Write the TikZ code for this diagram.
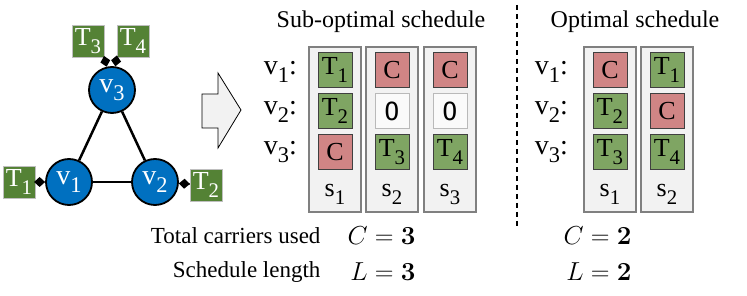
\RequirePackage{fix-cm}
\documentclass[tikz,border=0pt]{standalone}
\usepackage{amsmath}
\usepackage{graphicx}
\usepackage[no-math]{fontspec}
\setmainfont{Liberation Serif}
\newfontfamily\idlefont{DejaVu Sans Mono}
\usepackage{xcolor}
\usepackage{tikz}
\usetikzlibrary{positioning, arrows.meta, calc}
\definecolor{taskgreen}{HTML}{548235}
\definecolor{cellgreen}{HTML}{7FA563}
\definecolor{cellred}{HTML}{D08585}
\definecolor{colgray}{HTML}{F2F2F2}
\definecolor{vblue}{HTML}{0070C0}
\newcommand{\lo}[1]{\raisebox{-0.3em}{\scalebox{0.8}{#1}}}

\begin{document}
\begin{tikzpicture}[
  x=1pt, y=-1pt,
  node distance=5pt and 5pt,
  font=\fontsize{26}{30}\selectfont,
  vertex/.style={circle, draw, line width=1.8pt, fill=vblue, text=white, minimum size=46pt, inner sep=0pt, font=\fontsize{28}{30}\selectfont},
  tbox/.style={draw=gray!50, line width=0.8pt, fill=taskgreen, text=white, minimum size=32pt, inner sep=0pt},
  column/.style={draw=gray, line width=1.2pt, fill=colgray, minimum width=52pt, minimum height=165pt, inner sep=0pt},
  task/.style={draw=black!75, line width=0.8pt, fill=cellgreen, minimum width=34pt, minimum height=35pt, inner sep=0pt},
  carrier/.style={task, fill=cellred},
  idle/.style={task, draw=gray!55, line width=1pt, fill=white!96!gray, font=\idlefont\fontsize{25}{28}\selectfont},
  rowlab/.style={anchor=east, inner sep=0pt, font=\fontsize{28}{30}\selectfont},
  slab/.style={inner sep=0pt},
  title/.style={font=\fontsize{24}{28}\selectfont},
  total/.style={anchor=east, font=\fontsize{23}{27}\selectfont},
  value/.style={anchor=east, font=\fontsize{26}{28}\selectfont},
  conn/.style={line width=1.6pt, -{Diamond[length=11pt, width=10pt]}},
  link/.style={line width=2.5pt}
]
\useasboundingbox (0,0) rectangle (747,296);

% graph
\node[vertex] (v3) at (112,90) {v\lo{3}};
\node[vertex] (v1) at (69,182) {v\lo{1}};
\node[vertex] (v2) at (155,182) {v\lo{2}};
\node[tbox] (t1) at (19,182) {T\lo{1}};
\node[tbox] (t2) at (206,185) {T\lo{2}};
\node[tbox] (t3) at (88,41) {T\lo{3}};
\node[tbox] (t4) at (133,41) {T\lo{4}};
\draw[link] (v1)--(v2);
\draw[link] (v1)--(v3);
\draw[link] (v2)--(v3);
\draw[conn] (t1)--(v1);
\draw[conn] (t2)--(v2);
\draw[conn] (t3.south east)--(v3);
\draw[conn] (t4.south west)--(v3);

% arrow
\draw[line width=0.8pt, fill=colgray] (202,94)--(218,94)--(218,73)--(241,110)--(218,148)--(218,128)--(202,128)--cycle;

% sub-optimal schedule
\node[title] (subtitle) at (381,22) {Sub-optimal schedule};
\node[column] (a1) at (335,129.5) {};
\node[column] (a2) at (392,129.5) {};
\node[column] (a3) at (450,129.5) {};
\node[task, below=6pt of a1.north] (a11) {T\lo{1}};
\node[task, below=of a11] (a12) {T\lo{2}};
\node[carrier, below=of a12] (a13) {C};
\node[slab, above=8pt of a1.south] (s1a) {s\lo{1}};
\node[carrier, below=6pt of a2.north] (a21) {C};
\node[idle, below=of a21] (a22) {O};
\node[task, below=of a22] (a23) {T\lo{3}};
\node[slab, above=8pt of a2.south] (s2a) {s\lo{2}};
\node[carrier, below=6pt of a3.north] (a31) {C};
\node[idle, below=of a31] (a32) {O};
\node[task, below=of a32] (a33) {T\lo{4}};
\node[slab, above=8pt of a3.south] (s3a) {s\lo{3}};
\node[rowlab] (ra1) at (297,72) {v\lo{1}:};
\node[rowlab] (ra2) at (297,112) {v\lo{2}:};
\node[rowlab] (ra3) at (297,152) {v\lo{3}:};

% divider
\draw[line width=1.2pt, dash pattern=on 5pt off 4pt] (517,5)--(517,226);

% optimal schedule
\node[title] (opttitle) at (635,22) {Optimal schedule};
\node[column] (b1) at (610,129.5) {};
\node[column] (b2) at (667,129.5) {};
\node[carrier, below=6pt of b1.north] (b11) {C};
\node[task, below=of b11] (b12) {T\lo{2}};
\node[task, below=of b12] (b13) {T\lo{3}};
\node[slab, above=8pt of b1.south] (s1b) {s\lo{1}};
\node[task, below=6pt of b2.north] (b21) {T\lo{1}};
\node[carrier, below=of b21] (b22) {C};
\node[task, below=of b22] (b23) {T\lo{4}};
\node[slab, above=8pt of b2.south] (s2b) {s\lo{2}};
\node[rowlab] (rb1) at (568,72) {v\lo{1}:};
\node[rowlab] (rb2) at (568,112) {v\lo{2}:};
\node[rowlab] (rb3) at (568,152) {v\lo{3}:};

% totals
\node[total] (carlab) at (324,236) {Total carriers used};
\node[total] (lenlab) at (324,272) {Schedule length};
\node[value] (cara) at (419,236) {$C=\mathbf{3}$};
\node[value] (lena) at (419,272) {$L=\mathbf{3}$};
\node[value] (carb) at (635,236) {$C=\mathbf{2}$};
\node[value] (lenb) at (635,272) {$L=\mathbf{2}$};
\end{tikzpicture}
\end{document}
